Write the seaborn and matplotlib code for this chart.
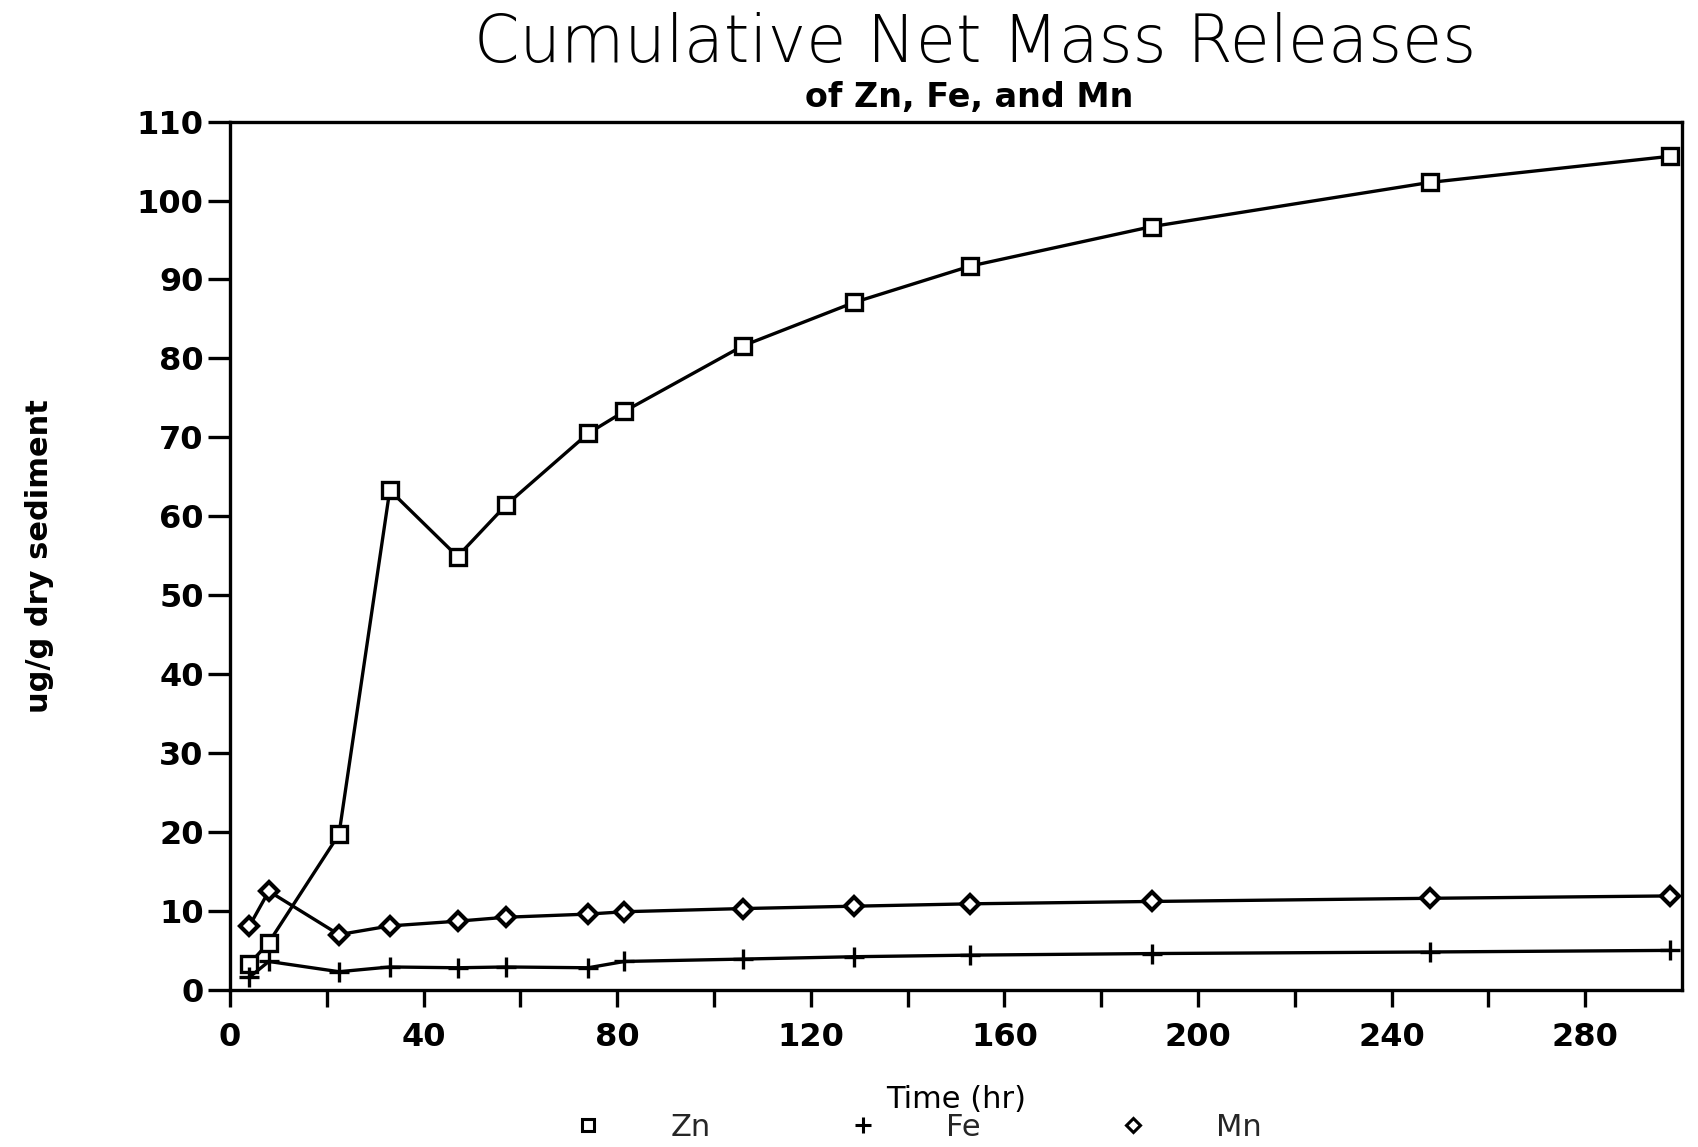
import matplotlib
matplotlib.use("Agg")
import matplotlib.pyplot as plt
from matplotlib.lines import Line2D
import numpy as np
import pandas as pd
import seaborn as sns

# Sampling times (hr)
time_hr = [4, 8, 22.5, 33, 47, 57, 74, 81.5, 106, 129, 153, 190.5, 248, 297.5]

# Cumulative net mass released (ug/g dry sediment)
zn = [3.3, 6.0, 19.7, 63.3, 54.9, 61.4, 70.5, 73.3, 81.6, 87.1, 91.7, 96.7, 102.3, 105.6]
fe = [1.6, 3.6, 2.3, 2.9, 2.8, 2.9, 2.8, 3.6, 3.9, 4.2, 4.4, 4.6, 4.8, 5.0]
mn = [8.1, 12.5, 7.0, 8.1, 8.7, 9.2, 9.6, 9.9, 10.3, 10.6, 10.9, 11.2, 11.6, 11.9]

metals = ["Zn", "Fe", "Mn"]
x_ticks = [0, 40, 80, 120, 160, 200, 240, 280]
y_ticks = list(range(0, 111, 10))

df = pd.DataFrame({
    "time": time_hr * 3,
    "value": zn + fe + mn,
    "metal": ["Zn"] * len(time_hr) + ["Fe"] * len(time_hr) + ["Mn"] * len(time_hr),
})

sns.set_style("ticks")
plt.rcParams["font.family"] = ["DejaVu Sans"]

fig = plt.figure(figsize=(16.98, 11.47), dpi=100)
ax = fig.add_axes([0.1355, 0.137, 0.855, 0.757])

marker_style = {
    "Zn": dict(marker="s", markersize=11, markerfacecolor="white", markeredgewidth=2.4),
    "Fe": dict(marker="+", markersize=14, markeredgewidth=2.4),
    "Mn": dict(marker="D", markersize=9.5, markerfacecolor="white", markeredgewidth=3.0),
}

for m in metals:
    sns.lineplot(data=df[df["metal"] == m], x="time", y="value", ax=ax,
                 color="black", linewidth=2.4, markeredgecolor="black",
                 legend=False, **marker_style[m])

ax.set_xlim(0, 300)
ax.set_ylim(0, 110)
ax.set_xticks(x_ticks)
ax.set_xticks(list(range(20, 300, 40)), minor=True)
ax.set_yticks(y_ticks)

for side in ["left", "right", "top", "bottom"]:
    ax.spines[side].set_visible(True)
    ax.spines[side].set_linewidth(2.4)
    ax.spines[side].set_color("black")

ax.tick_params(axis="y", which="major", direction="out", length=16, width=2.4,
               pad=3, labelsize=23, colors="black")
ax.tick_params(axis="x", which="both", direction="out", length=12, width=2.4,
               pad=11, labelsize=23, colors="black")
for lbl in ax.get_xticklabels() + ax.get_yticklabels():
    lbl.set_fontweight("bold")

ax.set_xlabel("Time (hr)", fontsize=22, color="black")
ax.set_ylabel("ug/g dry sediment", fontsize=22, fontweight="bold", color="black")
ax.xaxis.set_label_coords(0.5, -0.11)
ax.yaxis.set_label_coords(-0.121, 0.5)

fig.text(0.574, 0.962, "Cumulative Net Mass Releases", ha="center", va="center",
         fontsize=47, fontweight="light", color="black")
fig.text(0.571, 0.915, "of Zn, Fe, and Mn", ha="center", va="center",
         fontsize=24, fontweight="bold", color="black")

handles = [
    Line2D([], [], linestyle="none", color="black", marker="s", markersize=9,
           markerfacecolor="white", markeredgewidth=2.2),
    Line2D([], [], linestyle="none", color="black", marker="+", markersize=12,
           markeredgewidth=2.2),
    Line2D([], [], linestyle="none", color="black", marker="D", markersize=7,
           markerfacecolor="white", markeredgewidth=2.2),
]
fig.legend(handles, metals, loc="center", bbox_to_anchor=(0.541, 0.017), ncol=3,
           frameon=False, fontsize=22, handlelength=0.8, handletextpad=2.3,
           columnspacing=4.6, borderpad=0)

fig.savefig("out.png", dpi=100, facecolor="white")
